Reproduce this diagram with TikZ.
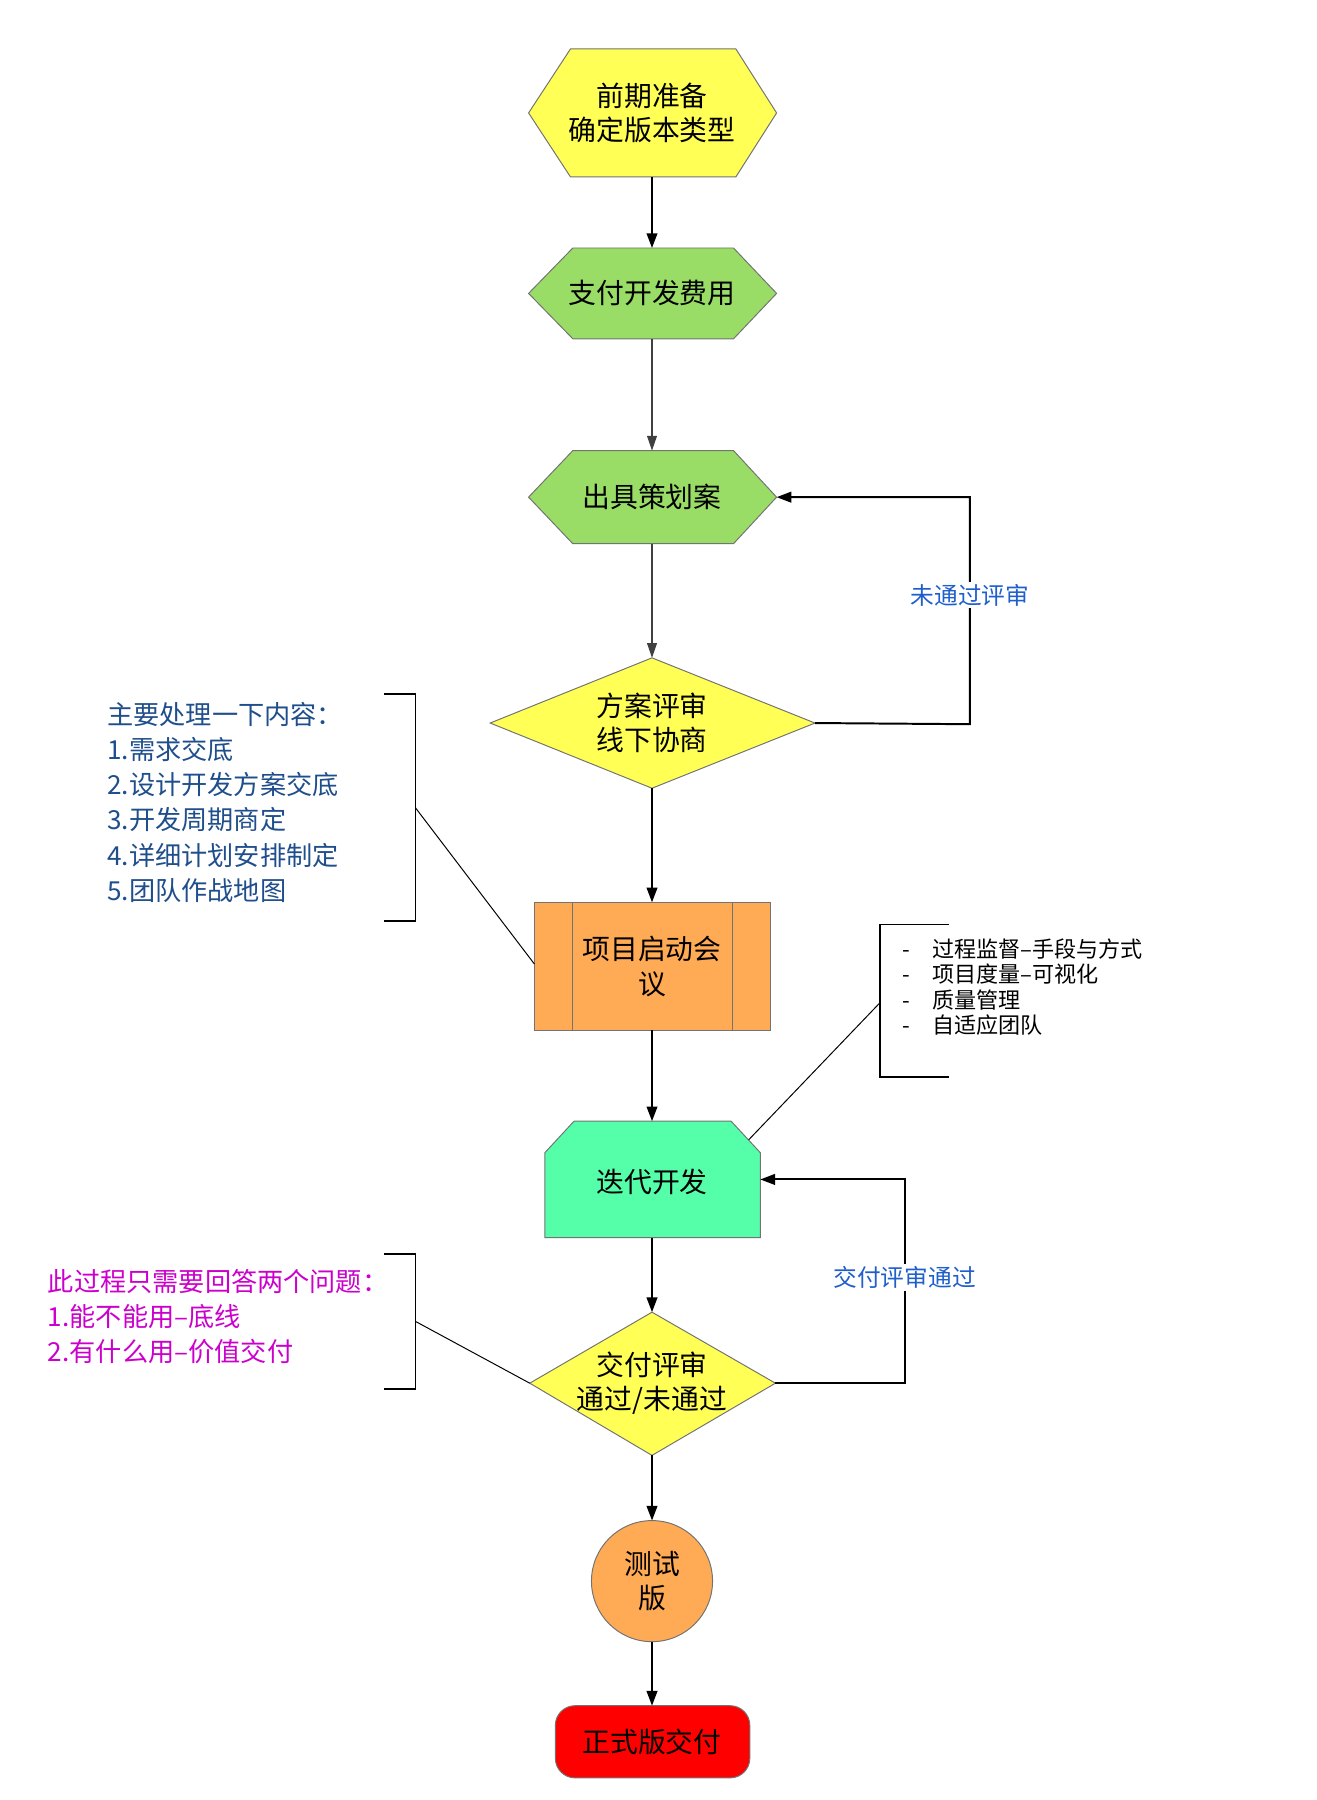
\documentclass[tikz,border=0pt]{standalone}
\usepackage{fontspec}
\setmainfont{Noto Sans CJK SC}
\usetikzlibrary{arrows.meta}
\definecolor{yel}{HTML}{FFFF55}
\definecolor{grn}{HTML}{99DD66}
\definecolor{org}{HTML}{FFAA55}
\definecolor{mnt}{HTML}{55FFAA}
\definecolor{nblue}{HTML}{1F4E8C}
\definecolor{lblue}{HTML}{1F5FCC}
\definecolor{mag}{HTML}{CC00CC}
\begin{document}
\begin{tikzpicture}[x=0.05cm,y=-0.05cm,
  shp/.style={draw=black!55,line width=1.2pt},
  txt/.style={font=\fontsize{34}{42}\selectfont,align=center},
  arr/.style={line width=2.4pt,-{Triangle[length=18pt,width=13pt]}},
  garr/.style={line width=1.6pt,draw=black!75,-{Triangle[length=18pt,width=12pt]},fill=black!75},
  brk/.style={line width=2pt},
  lab/.style={font=\fontsize{29}{34}\selectfont,fill=white,text=lblue,inner sep=3pt},
  note/.style={font=\fontsize{32}{43}\selectfont,align=left,anchor=north west,inner sep=0pt}]
\useasboundingbox (0,0) rectangle (1131,1546);
% shapes
\draw[shp,fill=yel] (454,97)--(490,42)--(632,42)--(667,97)--(632,152)--(490,152)--cycle;
\node[txt] (n1) at (560,97) {前期准备\\确定版本类型};
\draw[shp,fill=grn] (454,252)--(492,213)--(630,213)--(667,252)--(630,291)--(492,291)--cycle;
\node[txt] (n2) at (560,252) {支付开发费用};
\draw[shp,fill=grn] (454,427)--(492,387)--(630,387)--(667,427)--(630,467)--(492,467)--cycle;
\node[txt] (n3) at (560,427) {出具策划案};
\coordinate (n3r) at (667,427);
\draw[shp,fill=yel] (421,621)--(560,565)--(700,621)--(560,677)--cycle;
\node[txt] (d1) at (560,621) {方案评审\\线下协商};
\coordinate (d1r) at (700,621);
\coordinate (d1t) at (560,565);
\draw[shp,fill=org] (459,775) rectangle (662,885);
\draw[shp] (492,775)--(492,885) (629,775)--(629,885);
\node[txt] (r) at (560,830) {项目启动会\\议};
\coordinate (rt) at (560,775); \coordinate (rb) at (560,885); \coordinate (rl) at (459,828);
\draw[shp,fill=mnt] (468,1063)--(468,990)--(493,963)--(628,963)--(653,990)--(653,1063)--cycle;
\node[txt] (it) at (560,1015) {迭代开发};
\coordinate (itt) at (560,963); \coordinate (itb) at (560,1063); \coordinate (itr) at (653,1013);
\draw[shp,fill=yel] (455,1188)--(560,1127)--(666,1188)--(560,1250)--cycle;
\node[txt] (d2) at (560,1188) {交付评审\\通过/未通过};
\coordinate (d2t) at (560,1127); \coordinate (d2b) at (560,1250);
\coordinate (d2r) at (666,1188); \coordinate (d2l) at (455,1188);
\draw[shp,fill=org] (560,1358) circle (52);
\node[txt] (c) at (560,1358) {测试\\版};
\coordinate (ct) at (560,1306); \coordinate (cb) at (560,1410);
\draw[shp,fill=red,rounded corners=24] (477,1465) rectangle (644,1527);
\node[txt] (f) at (560,1496) {正式版交付};
\coordinate (ft) at (560,1465);
% arrows
\draw[arr] (560,152) -- (560,213);
\draw[garr] (560,291) -- (560,387);
\draw[garr] (560,467) -- (d1t);
\draw[arr] (560,677) -- (rt);
\draw[arr] (rb) -- (itt);
\draw[arr] (itb) -- (d2t);
\draw[arr] (d2b) -- (ct);
\draw[arr] (cb) -- (ft);
\draw[arr] (d1r) -- (833,622) -- (833,427) -- (n3r);
\node[lab] (l1) at (833,511) {未通过评审};
\draw[arr] (d2r) -- (777,1188) -- (777,1013) -- (itr);
\node[lab] (l2) at (777,1097) {交付评审通过};
% notes
\node[note,text=nblue] (t1) at (92,603) {主要处理一下内容：\\1.需求交底\\2.设计开发方案交底\\3.开发周期商定\\4.详细计划安排制定\\5.团队作战地图};
\draw[brk] (330,596) -- (357,596) -- (357,791) -- (330,791);
\coordinate (b1) at (357,694);
\draw[line width=1.2pt] (b1) -- (rl);
\node[note,font=\fontsize{27}{31}\selectfont] (t2) at (775,806) {-\quad 过程监督--手段与方式\\-\quad 项目度量--可视化\\-\quad 质量管理\\-\quad 自适应团队};
\draw[brk] (815,794) -- (756,794) -- (756,925) -- (815,925);
\coordinate (b2) at (756,861); \coordinate (itc) at (643,979);
\draw[line width=1.2pt] (b2) -- (itc);
\node[note,text=mag] (t3) at (41,1090) {此过程只需要回答两个问题：\\1.能不能用--底线\\2.有什么用--价值交付};
\draw[brk] (330,1077) -- (357,1077) -- (357,1193) -- (330,1193);
\coordinate (b3) at (357,1135);
\draw[line width=1.2pt] (b3) -- (d2l);
\end{tikzpicture}
\end{document}
